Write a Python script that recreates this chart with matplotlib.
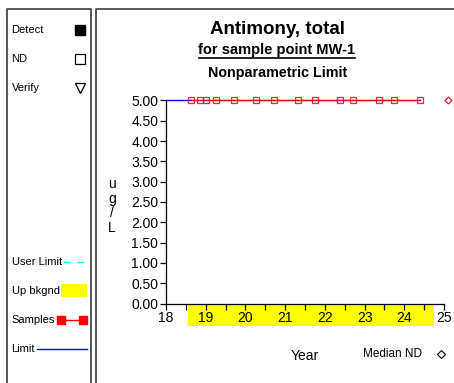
import numpy as np
import matplotlib
matplotlib.use('Agg')
import matplotlib.pyplot as plt

plt.rcParams['font.family'] = ['Liberation Sans', 'DejaVu Sans']

# sample dates (decimal years, 2-digit) - all non-detects at 5.00 ug/L
sample_years = [18.63, 18.86, 19.01, 19.25, 19.71, 20.26, 20.73, 21.32,
                21.75, 22.37, 22.71, 23.37, 23.73, 24.40]
sample_values = [5.0] * len(sample_years)
limit_value = 5.0
limit_span = [18.0, 24.40]
median_nd_year = 25.10
median_nd_value = 5.0
bkgnd_span = [18.55, 24.74]
x_ticks = [18, 19, 20, 21, 22, 23, 24, 25]
y_ticks = [0.0, 0.5, 1.0, 1.5, 2.0, 2.5, 3.0, 3.5, 4.0, 4.5, 5.0]

W, H = 454, 383
fig = plt.figure(figsize=(W / 100, H / 100), dpi=100)

# overlay in pixel coords for the frame, legend panel and titles
bg = fig.add_axes([0, 0, 1, 1])
bg.set_xlim(0, W)
bg.set_ylim(H, 0)
bg.axis('off')
frame = dict(color='#4a4a4a', lw=1.3)
bg.plot([7, 7, 91, 91], [H + 5, 9, 9, H + 5], **frame)
bg.plot([95.5, 95.5, W + 5], [H + 5, 9, 9], **frame)

# legend panel
fs = 8
bg.text(11.5, 30, 'Detect', fontsize=fs, va='center')
bg.plot(80, 30, 's', color='black', ms=6.5)
bg.text(11.5, 59, 'ND', fontsize=fs, va='center')
bg.plot(80, 59, 's', mfc='white', mec='black', ms=6.5, mew=0.9)
bg.text(11.5, 88, 'Verify', fontsize=fs, va='center')
bg.plot(80, 88, 'v', mfc='white', mec='black', ms=7, mew=0.9)
bg.text(11.5, 262, 'User Limit', fontsize=fs, va='center')
bg.plot([63, 87], [262, 262], color='cyan', lw=1, ls=(0, (5, 5)))
bg.text(11.5, 291, 'Up bkgnd', fontsize=fs, va='center')
bg.add_patch(plt.Rectangle((61, 284), 26, 13, color='yellow', lw=0))
bg.text(11.5, 320, 'Samples', fontsize=fs, va='center')
bg.plot([61, 83], [320, 320], '-s', color='red', ms=6, lw=1)
bg.text(11.5, 349, 'Limit', fontsize=fs, va='center')
bg.plot([37, 87], [349, 349], color='blue', lw=1)

# titles
bg.text(277.5, 29, 'Antimony, total', fontsize=13.5, fontweight='bold',
        ha='center', va='center')
bg.text(277, 50, 'for sample point MW-1', fontsize=10.5, fontweight='bold',
        ha='center', va='center')
bg.plot([199, 355], [57.5, 57.5], color='black', lw=1.2)
bg.text(277.5, 73, 'Nonparametric Limit', fontsize=10.3, fontweight='bold',
        ha='center', va='center')
bg.text(305, 356, 'Year', fontsize=10, ha='center', va='center')
bg.text(363, 354, 'Median ND', fontsize=8.5, ha='left', va='center')
bg.plot(441, 354, 'D', mfc='white', mec='black', ms=4, mew=0.8)
bg.text(112, 206, 'u\ng\n/\nL', fontsize=10, ha='center', va='center',
        linespacing=1.05)

# main axes
left, right, top, bottom = 166, 452, 96.4, 327.9
ax = fig.add_axes([left / W, 1 - bottom / H, (right - left) / W, (bottom - top) / H])
ax.patch.set_alpha(0)
ax.set_xlim(18, 25.2)
ax.set_ylim(-0.6, 5.1)
for s in ['top', 'right']:
    ax.spines[s].set_visible(False)
ax.spines['bottom'].set_position(('data', 0))
ax.spines['bottom'].set_bounds(18, 25)
ax.spines['left'].set_bounds(0, 5)
for s in ['bottom', 'left']:
    ax.spines[s].set_linewidth(0.9)

ax.fill_between(bkgnd_span, -0.55, 0, color='yellow', lw=0, zorder=0.5)
ax.plot(limit_span, [limit_value, limit_value], color='blue', lw=1, zorder=2)
ax.plot(sample_years, sample_values, '-s', color='red', mfc='none', mec='red',
        ms=5, mew=0.9, lw=0.8, alpha=0.85, zorder=3)
ax.plot(median_nd_year, median_nd_value, 'D', mfc='none', mec='red', ms=3.5,
        mew=0.8, zorder=3)

ax.set_xticks(x_ticks)
ax.set_xticklabels([str(t) for t in x_ticks])
ax.set_xticks(np.arange(18.5, 25, 1.0), minor=True)
ax.set_yticks(y_ticks)
ax.set_yticklabels(['%.2f' % v for v in y_ticks])
ax.tick_params(axis='both', direction='out', length=4, width=0.9, labelsize=10, pad=1.5)
ax.tick_params(axis='x', which='minor', direction='out', length=4, width=0.9)

fig.savefig('out.png', dpi=100)
